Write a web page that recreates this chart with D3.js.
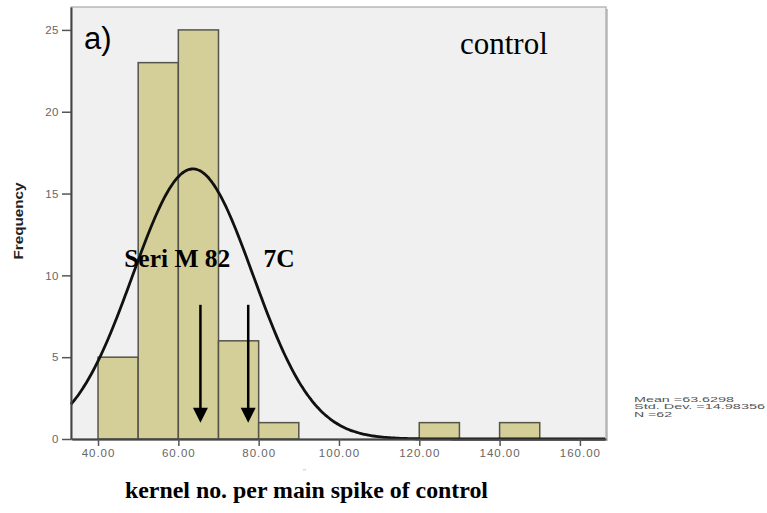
<!DOCTYPE html>
<html>
<head>
<meta charset="utf-8">
<script src="https://cdn.jsdelivr.net/npm/d3@7"></script>
<style>
  html, body { margin: 0; padding: 0; background: #ffffff; }
  svg { display: block; }
</style>
</head>
<body>
<svg id="chart" width="767" height="513"></svg>
<script>
// ---- data ----
const binStarts = [40, 50, 60, 70, 80, 120, 140];
const binWidth = 10;
const frequencies = [5, 23, 25, 6, 1, 1, 1];
const xTicks = [40, 60, 80, 100, 120, 140, 160];
const yTicks = [0, 5, 10, 15, 20, 25];
const statMean = 63.6298;
const statSd = 14.98356;
const statN = 62;
const statLabels = ["Mean =63.6298", "Std. Dev. =14.98356", "N =62"];
const arrowValues = [65.5, 77.4];
const arrowFrom = 8.2, arrowTo = 1.0;
const annotations = [{text: "Seri M 82", x: 46.5, y: 10.5}, {text: "7C", x: 81.2, y: 10.5}];

// ---- layout ----
const svg = d3.select("#chart");
const L = 71, R = 606, T = 7, B = 439;
const x = d3.scaleLinear().domain([33.27, 166.5]).range([L, R]);
const y = d3.scaleLinear().domain([0, 26.4]).range([B, T]);

// plot background + frame
svg.append("rect").attr("x", L + 2).attr("y", T + 2).attr("width", R - L).attr("height", B - T)
  .attr("fill", "#c8c8c8");
svg.append("rect").attr("x", L).attr("y", T).attr("width", R - L).attr("height", B - T)
  .attr("fill", "#f0f0f0").attr("stroke", "#a8a8a8").attr("stroke-width", 1.2);

// bars
svg.append("g").selectAll("rect").data(binStarts).join("rect")
  .attr("x", d => x(d))
  .attr("y", (d, i) => y(frequencies[i]))
  .attr("width", d => x(d + binWidth) - x(d))
  .attr("height", (d, i) => y(0) - y(frequencies[i]))
  .attr("fill", "#d4cf98")
  .attr("stroke", "#55544a")
  .attr("stroke-width", 1.5);

// normal curve from the displayed statistics
const curvePts = d3.range(x.domain()[0], x.domain()[1] + 0.001, 0.5).map(v => {
  const z = (v - statMean) / statSd;
  return [v, statN * binWidth / (statSd * Math.sqrt(2 * Math.PI)) * Math.exp(-0.5 * z * z)];
});
svg.append("path").datum(curvePts)
  .attr("d", d3.line().x(d => x(d[0])).y(d => y(d[1])).curve(d3.curveBasis))
  .attr("fill", "none").attr("stroke", "#111").attr("stroke-width", 2.8);

// axes
const tickStyle = g => {
  g.selectAll("text").attr("fill", "#666").attr("font-family", "Liberation Sans, Arial, sans-serif")
    .attr("font-size", 11.5).attr("letter-spacing", 1);
  g.selectAll("line").attr("stroke", "#555").attr("stroke-width", 1.5);
  g.select(".domain").attr("stroke", "#444").attr("stroke-width", 2);
};
svg.append("g").attr("transform", `translate(0,${B})`)
  .call(d3.axisBottom(x).tickValues(xTicks).tickFormat(d3.format(".2f")).tickSize(7).tickSizeOuter(0).tickPadding(3))
  .call(tickStyle);
svg.append("g").attr("transform", `translate(${L},0)`)
  .call(d3.axisLeft(y).tickValues(yTicks).tickFormat(d3.format("d")).tickSize(9).tickSizeOuter(0).tickPadding(3))
  .call(tickStyle)
  .call(g => g.selectAll("text").attr("letter-spacing", 0.5));

// arrows
const arrows = svg.append("g");
arrowValues.forEach(v => {
  arrows.append("line").attr("x1", x(v)).attr("x2", x(v))
    .attr("y1", y(arrowFrom)).attr("y2", y(arrowTo) - 12)
    .attr("stroke", "#000").attr("stroke-width", 2.5);
  const tx = x(v), ty = y(arrowTo);
  arrows.append("path").attr("d", `M${tx - 7.5},${ty - 15} L${tx + 7.5},${ty - 15} L${tx},${ty} Z`)
    .attr("fill", "#000");
});

// annotations
svg.append("g").selectAll("text").data(annotations).join("text")
  .attr("x", d => x(d.x)).attr("y", d => y(d.y))
  .attr("font-family", "Liberation Serif, Times New Roman, serif")
  .attr("font-weight", "bold").attr("font-size", 25.5).attr("fill", "#000")
  .text(d => d.text);

svg.append("text").attr("x", 84).attr("y", 49)
  .attr("font-family", "Liberation Sans, Arial, sans-serif").attr("font-size", 31)
  .text("a)");
svg.append("text").attr("x", 460).attr("y", 54)
  .attr("font-family", "Liberation Serif, Times New Roman, serif").attr("font-size", 31)
  .text("control");

// axis titles
svg.append("text")
  .attr("transform", "translate(23,221) rotate(-90)")
  .attr("text-anchor", "middle")
  .attr("font-family", "Liberation Sans, Arial, sans-serif").attr("font-weight", "bold")
  .attr("font-size", 12.5).attr("fill", "#222")
  .attr("textLength", 77).attr("lengthAdjust", "spacingAndGlyphs")
  .text("Frequency");
svg.append("text").attr("x", 303).attr("y", 474)
  .attr("font-family", "Liberation Sans, Arial, sans-serif").attr("font-size", 8).attr("fill", "#aaa")
  .text("''");
svg.append("text").attr("x", 125).attr("y", 498)
  .attr("font-family", "Liberation Serif, Times New Roman, serif").attr("font-weight", "bold")
  .attr("font-size", 23.5).attr("fill", "#000")
  .attr("textLength", 363).attr("lengthAdjust", "spacingAndGlyphs")
  .text("kernel no. per main spike of control");

// statistics box text
svg.append("g").selectAll("text").data(statLabels).join("text")
  .attr("x", 634).attr("y", (d, i) => 402 + i * 7.4)
  .attr("font-family", "Liberation Sans, Arial, sans-serif").attr("font-size", 7).attr("fill", "#555")
  .attr("textLength", (d, i) => [100, 131, 38][i]).attr("lengthAdjust", "spacingAndGlyphs")
  .text(d => d);
</script>
</body>
</html>
